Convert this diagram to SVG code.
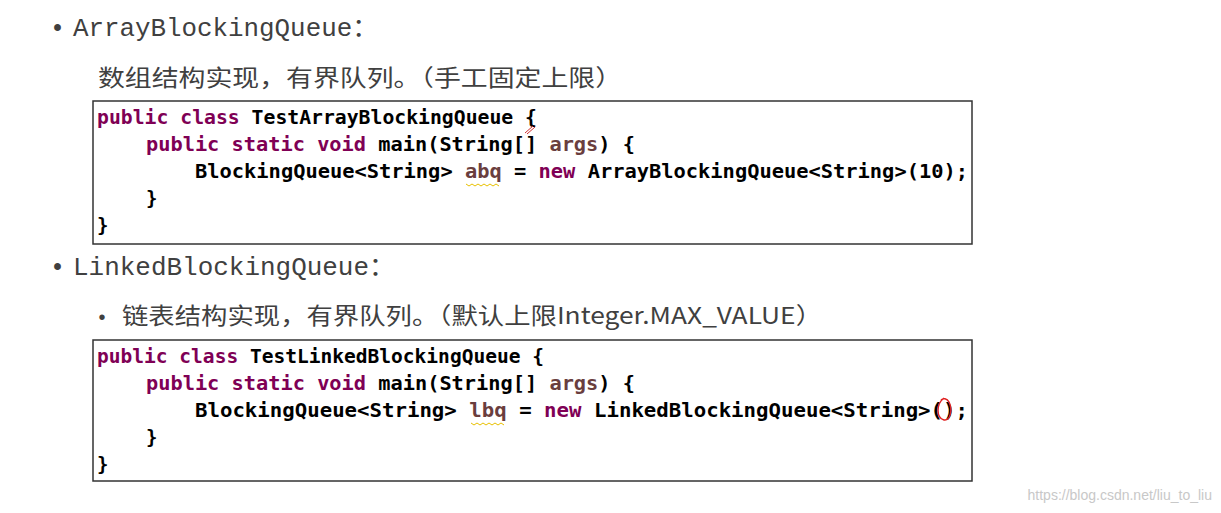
<svg xmlns="http://www.w3.org/2000/svg" width="1221" height="513" viewBox="0 0 1221 513">
<style>
.h{font-family:"Liberation Mono","Noto Sans CJK SC",monospace;font-size:25px;fill:#404040}
.c{font-family:"Noto Sans CJK SC","Liberation Mono",sans-serif;font-size:23px;fill:#404040}
.code{font-family:"DejaVu Sans Mono","Liberation Mono",monospace;font-size:19px;font-weight:bold;fill:#000}
.k{fill:#7f0055}.v{fill:#6a3e3e}
.box{fill:#fff;stroke:#333;stroke-width:1.5}
.sq{fill:none;stroke:#e8c000;stroke-width:1}
</style>
<rect width="1221" height="513" fill="#fff"/>
<g id="heading1">
<text x="50" y="36" class="h">•</text>
<text x="73" y="36" class="h" textLength="305" lengthAdjust="spacingAndGlyphs">ArrayBlockingQueue：</text>
<text x="98" y="86" class="c" textLength="524" lengthAdjust="spacingAndGlyphs">数组结构实现，有界队列。（手工固定上限）</text>
</g>
<g id="code1">
<rect x="93" y="101" width="879" height="143" class="box"/>
<text class="code" x="97" y="124" textLength="440" lengthAdjust="spacingAndGlyphs"><tspan class="k">public class</tspan> TestArrayBlockingQueue {</text>
<text class="code" x="146" y="151" textLength="489" lengthAdjust="spacingAndGlyphs"><tspan class="k">public static void</tspan> main(String[] <tspan class="v">args</tspan>) {</text>
<text class="code" x="195" y="178" textLength="773" lengthAdjust="spacingAndGlyphs">BlockingQueue&lt;String&gt; <tspan class="v">abq</tspan> = <tspan class="k">new</tspan> ArrayBlockingQueue&lt;String&gt;(10);</text>
<text class="code" x="146" y="205">}</text>
<text class="code" x="97" y="232">}</text>
<path class="sq" d="M466 184 l3 2 l3 -2 l3 2 l3 -2 l3 2 l3 -2 l3 2 l3 -2 l3 2 l3 -2 l3 2"/>
<path d="M525 133 l8 -7 M527 134 l8 -7" stroke="#d03030" stroke-width="1" fill="none"/>
</g>
<g id="heading2">
<text x="50" y="275" class="h">•</text>
<text x="73" y="275" class="h" textLength="322" lengthAdjust="spacingAndGlyphs">LinkedBlockingQueue：</text>
<text x="96" y="324" class="h" style="font-size:20px">•</text>
<text x="122" y="324" class="c" textLength="700" lengthAdjust="spacingAndGlyphs">链表结构实现，有界队列。（默认上限Integer.MAX_VALUE）</text>
</g>
<g id="code2">
<rect x="93" y="340" width="879" height="141" class="box"/>
<text class="code" x="97" y="363" textLength="447" lengthAdjust="spacingAndGlyphs"><tspan class="k">public class</tspan> TestLinkedBlockingQueue {</text>
<text class="code" x="146" y="390" textLength="489" lengthAdjust="spacingAndGlyphs"><tspan class="k">public static void</tspan> main(String[] <tspan class="v">args</tspan>) {</text>
<text class="code" x="195" y="417" textLength="773" lengthAdjust="spacingAndGlyphs">BlockingQueue&lt;String&gt; <tspan class="v">lbq</tspan> = <tspan class="k">new</tspan> LinkedBlockingQueue&lt;String&gt;();</text>
<text class="code" x="146" y="444">}</text>
<text class="code" x="97" y="471">}</text>
<path class="sq" d="M471 423 l3 2 l3 -2 l3 2 l3 -2 l3 2 l3 -2 l3 2 l3 -2 l3 2 l3 -2 l3 2"/>
<path d="M944 398 c-8 6 -8 20 0 22 c6 1 9 -10 5 -18 c-2 -4 -6 -4 -8 -2" stroke="#e02020" stroke-width="1.5" fill="none"/>
</g>
<text x="1212" y="500" text-anchor="end" font-family="Liberation Sans,sans-serif" font-size="14" fill="#c8c8c8">https://blog.csdn.net/liu_to_liu</text>
</svg>
